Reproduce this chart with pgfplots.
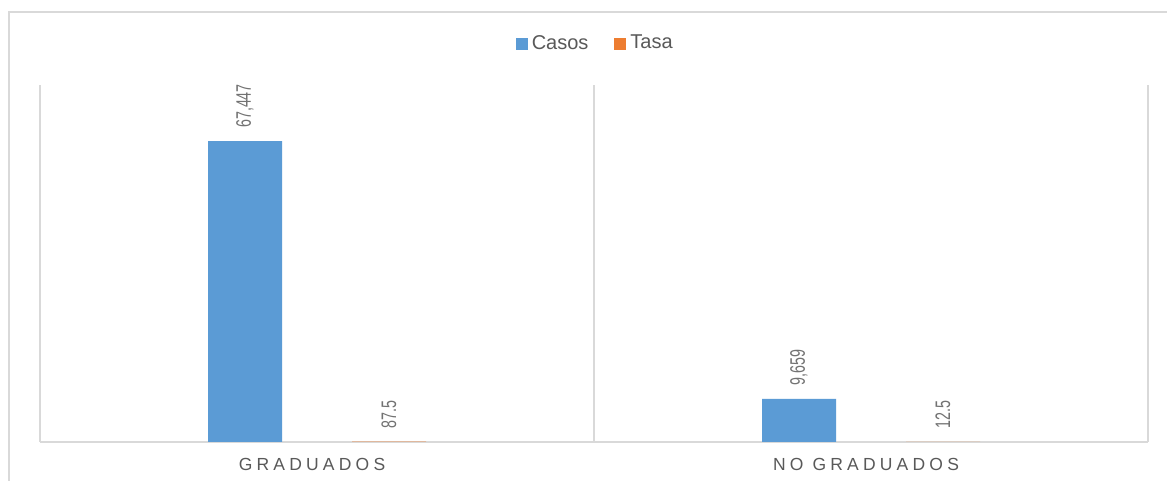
\documentclass[border=0pt]{standalone}
\usepackage{fontspec}
\setmainfont{Liberation Sans}
\usepackage{pgfplots}
\pgfplotsset{compat=1.18}
\definecolor{casos}{HTML}{5B9BD5}
\definecolor{tasa}{HTML}{ED7D31}
\definecolor{gridg}{HTML}{D9D9D9}
\definecolor{txt}{HTML}{595959}
\begin{document}
\begin{tikzpicture}
\useasboundingbox (0,0) rectangle (583.5pt,240.5pt);
\fill[white] (0,0) rectangle (583.5pt,240.5pt);
\draw[gridg, line width=1pt] (4.5pt,0pt) -- (4.5pt,234.5pt) -- (583.5pt,234.5pt);
\begin{axis}[
  at={(20pt,19.5pt)}, anchor=south west,
  scale only axis, width=554pt, height=178.5pt,
  xmin=-0.5, xmax=1.5, ymin=0, ymax=80000,
  clip=false,
  ybar=35pt, bar width=37pt,
  axis x line=bottom, axis y line=none,
  x axis line style={-, draw=gridg, line width=1pt},
  xtick={0,1}, xticklabels={GRADUADOS, NO GRADUADOS},
  major tick length=0pt, minor tick length=0pt,
  minor xtick={-0.5,0.5,1.5}, xminorgrids=true,
  minor grid style={draw=gridg, line width=1pt},
  ytick=\empty,
  xticklabel style={font=\fontsize{8.75}{10}\selectfont\addfontfeature{LetterSpace=24}, text=txt, inner sep=0pt, anchor=north, yshift=-8pt, xshift=-2.5pt},
  nodes near coords,
  nodes near coords style={font=\fontsize{10.5}{12}\selectfont, text=txt!85!white, rotate=90, xscale=0.68, anchor=west, inner xsep=9.5pt, inner ysep=0pt},
  /pgf/number format/fixed,
  /pgf/number format/precision=1,
  /pgf/number format/1000 sep={,},
  /pgf/number format/assume math mode=true,
  legend style={at={(0.502,1.116)}, anchor=center, draw=none, fill=none, legend columns=-1, font=\fontsize{10}{12}\selectfont, text=txt, /tikz/every even column/.append style={column sep=11pt}},
  legend image code/.code={\fill[#1] (0pt,-3pt) rectangle (6pt,3pt);},
]
\addplot[fill=casos, draw=none] coordinates {(0,67447) (1,9659)};
\addplot[fill=tasa, draw=none] coordinates {(0,87.5) (1,12.5)};
\legend{Casos, Tasa}
\end{axis}
\end{tikzpicture}
\end{document}
